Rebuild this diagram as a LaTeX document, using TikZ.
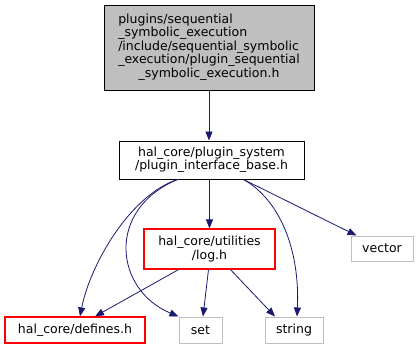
\documentclass[tikz,border=0pt]{standalone}
\usepackage{fontspec}
\setmainfont{DejaVu Sans}
\usetikzlibrary{arrows.meta,calc}
\definecolor{edgenavy}{RGB}{25,25,112}
\definecolor{frgray}{RGB}{191,191,191}
\definecolor{frred}{RGB}{255,0,0}
\definecolor{nodegray}{RGB}{191,191,191}
\tikzset{
  file/.style={draw=black, fill=white, align=center, inner sep=2pt,
    font=\fontsize{12.5}{13.4}\selectfont, text=black, line width=1pt},
  rfile/.style={draw=frred, fill=white, align=center, inner sep=2pt,
    font=\fontsize{12.5}{13.4}\selectfont, text=black, line width=1.2pt},
  gfile/.style={draw=frgray, fill=white, align=center, inner sep=2pt,
    font=\fontsize{12.5}{13.4}\selectfont, text=black, line width=1pt},
  topfile/.style={draw=black, fill=nodegray, inner sep=0pt,
    font=\fontsize{12.5}{13.4}\selectfont, text=black, line width=1pt},
  dep/.style={-{Triangle[length=9pt,width=7pt]}, line width=0.8pt, draw=edgenavy},
}

\begin{document}
\begin{tikzpicture}[x=1pt,y=-1pt]
  \useasboundingbox (0,0) rectangle (419,349);
  % files
  \node[topfile, minimum width=210pt, minimum height=85pt] (plugin) at (209,47.5)
    {\begin{tabular}{@{}l@{}}plugins/sequential\\\_symbolic\_execution\\/include/sequential\_symbolic\\\_execution/plugin\_sequential\\\multicolumn{1}{@{}c@{}}{\_symbolic\_execution.h}\end{tabular}};
  \node[file, minimum width=185pt, minimum height=38pt] (base) at (211.5,160)
    {hal\_core/plugin\_system\\/plugin\_interface\_base.h};
  \node[rfile, minimum width=131pt, minimum height=40pt] (log) at (209.5,249)
    {hal\_core/utilities\\/log.h};
  \node[gfile, minimum width=62pt, minimum height=25pt] (vector) at (382,248.5) {vector};
  \node[rfile, minimum width=140pt, minimum height=26pt] (defines) at (75,330) {hal\_core/defines.h};
  \node[gfile, minimum width=43pt, minimum height=26pt] (set) at (200.5,330) {set};
  \node[gfile, minimum width=58pt, minimum height=26pt] (string) at (294,330) {string};
  % includes
  \draw[dep] (plugin.south) -- (plugin.south |- base.north);
  \draw[dep] (log.north |- base.south) -- (log.north);
  \draw[dep] ($(base.south)+(32,0)$) -- ($(vector.north west)+(6,0)$);
  \draw[dep] ($(base.south)+(32,0)$) .. controls (280,200) and (300,250) .. ($(string.north)+(3,0)$);
  \draw[dep] ($(base.south)+(-34,0)$) .. controls (130,195) and (90,265) .. ($(defines.north)+(5,0)$);
  \draw[dep] ($(base.south)+(-34,0)$) .. controls (105,210) and (115,290) .. (set.north west);
  \draw[dep] ($(log.south)+(-31,0)$) -- ($(defines.north)+(20,0)$);
  \draw[dep] ($(log.south)+(-1,0)$) -- ($(set.north)+(2.5,0)$);
  \draw[dep] ($(log.south)+(21,0)$) -- ($(string.north)+(-19,0)$);
\end{tikzpicture}
\end{document}
